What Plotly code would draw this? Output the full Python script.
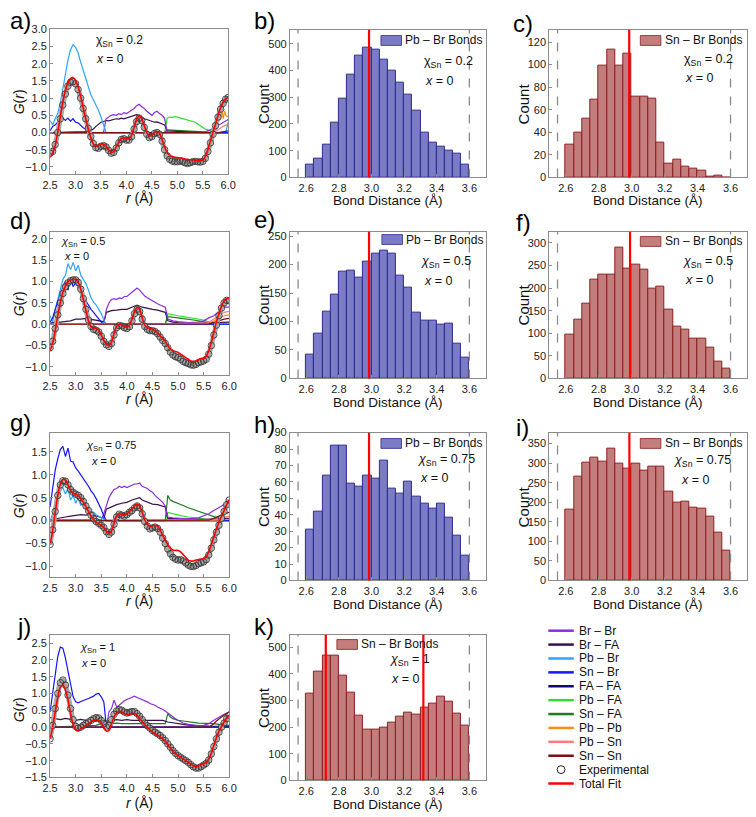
import plotly.graph_objects as go

W, H = 756, 817
FONT = "Liberation Sans, Arial, sans-serif"

# ---------------- G(r) data ----------------
R = [round(2.5 + 0.05 * i, 2) for i in range(71)]

A_EXP = [-0.60, -0.55, -0.35, 0.00, 0.40, 0.80, 1.12, 1.35, 1.46, 1.48,
         1.42, 1.25, 1.00, 0.70, 0.40, 0.12, -0.12, -0.32, -0.44, -0.46,
         -0.40, -0.38, -0.42, -0.52, -0.60, -0.58, -0.45, -0.30, -0.20, -0.18,
         -0.22, -0.22, -0.12, 0.10, 0.32, 0.42, 0.35, 0.15, -0.05, -0.15,
         -0.12, -0.03, 0.00, -0.05, -0.25, -0.50, -0.68, -0.78, -0.83, -0.85,
         -0.85, -0.83, -0.84, -0.88, -0.90, -0.88, -0.85, -0.84, -0.85, -0.86,
         -0.84, -0.75, -0.55, -0.30, -0.05, 0.20, 0.45, 0.68, 0.85, 0.97,
         1.02]
A_FIT = [-0.72, -0.60, -0.38, 0.00, 0.45, 0.88, 1.22, 1.45, 1.57, 1.60,
         1.52, 1.33, 1.05, 0.72, 0.40, 0.10, -0.15, -0.33, -0.40, -0.38,
         -0.34, -0.34, -0.40, -0.50, -0.58, -0.55, -0.42, -0.28, -0.18, -0.15,
         -0.18, -0.18, -0.08, 0.15, 0.38, 0.48, 0.40, 0.20, 0.00, -0.10,
         -0.08, 0.00, 0.03, -0.02, -0.20, -0.42, -0.58, -0.66, -0.70, -0.72,
         -0.73, -0.74, -0.75, -0.77, -0.78, -0.79, -0.80, -0.80, -0.82, -0.82,
         -0.80, -0.70, -0.50, -0.25, 0.00, 0.25, 0.50, 0.72, 0.88, 0.98,
         1.02]
A_PBBR = [(2.50, 0.35), (2.55, 0.22), (2.60, 0.40), (2.65, 0.55), (2.70, 0.85), (2.75, 1.30),
          (2.80, 1.75), (2.85, 2.10), (2.90, 2.40), (2.95, 2.55), (3.00, 2.48), (3.05, 2.32),
          (3.10, 2.05), (3.15, 1.80), (3.20, 1.55), (3.25, 1.32), (3.30, 1.10), (3.35, 0.95),
          (3.40, 0.80), (3.45, 0.65), (3.50, 0.45), (3.55, 0.25), (3.60, 0.00), (5.95, 0.00),
          (6.00, 0.30)]
A_SNBR = [(2.50, 0.05), (2.55, 0.18), (2.60, 0.22), (2.65, 0.30), (2.70, 0.38), (2.75, 0.42),
          (2.80, 0.35), (2.85, 0.42), (2.90, 0.33), (2.95, 0.40), (3.00, 0.30), (3.05, 0.28),
          (3.10, 0.20), (3.15, 0.14), (3.20, 0.10), (3.25, 0.05), (3.30, 0.00), (6.00, 0.00)]
A_BRBR = [(2.50, 0.00), (3.55, 0.00), (3.60, 0.40), (3.65, 0.45), (3.70, 0.50), (3.75, 0.52),
          (3.80, 0.50), (3.85, 0.55), (3.90, 0.52), (3.95, 0.58), (4.00, 0.55), (4.05, 0.60),
          (4.10, 0.65), (4.15, 0.70), (4.20, 0.78), (4.25, 0.82), (4.30, 0.75), (4.35, 0.70),
          (4.40, 0.62), (4.45, 0.55), (4.50, 0.50), (4.55, 0.58), (4.60, 0.62), (4.65, 0.55),
          (4.70, 0.50), (4.75, 0.42), (4.80, 0.00), (5.50, 0.00), (5.55, 0.02), (5.60, 0.05),
          (5.65, 0.08), (5.70, 0.12), (5.75, 0.18), (5.80, 0.22), (5.85, 0.25), (5.90, 0.30),
          (5.95, 0.35), (6.00, 0.38)]
A_BRFA = [(2.50, 0.00), (2.80, 0.01), (2.90, 0.03), (3.00, 0.02), (3.10, 0.02), (3.20, 0.03),
          (3.30, 0.06), (3.35, 0.10), (3.40, 0.18), (3.45, 0.25), (3.50, 0.30), (3.55, 0.32),
          (3.60, 0.35), (3.65, 0.34), (3.70, 0.36), (3.75, 0.38), (3.80, 0.40), (3.85, 0.39),
          (3.90, 0.42), (3.95, 0.40), (4.00, 0.42), (4.05, 0.45), (4.10, 0.48), (4.15, 0.50),
          (4.20, 0.52), (4.25, 0.50), (4.30, 0.45), (4.35, 0.40), (4.40, 0.38), (4.45, 0.35),
          (4.50, 0.33), (4.55, 0.30), (4.60, 0.31), (4.65, 0.28), (4.70, 0.25), (4.75, 0.22),
          (4.80, 0.05), (5.00, 0.03), (5.50, 0.00), (6.00, 0.00)]
A_PBFA = [(2.50, 0.00), (4.75, 0.00), (4.80, 0.42), (4.85, 0.45), (4.90, 0.44), (4.95, 0.46),
          (5.00, 0.45), (5.05, 0.43), (5.10, 0.41), (5.15, 0.40), (5.20, 0.38), (5.25, 0.36),
          (5.30, 0.33), (5.35, 0.30), (5.40, 0.25), (5.45, 0.20), (5.50, 0.15), (5.55, 0.10),
          (5.60, 0.08), (5.65, 0.05), (5.70, 0.03), (5.80, 0.00), (6.00, 0.00)]
A_SNFA = [(2.50, 0.00), (4.75, 0.00), (4.80, 0.08), (5.00, 0.06), (5.20, 0.05), (5.40, 0.03),
          (5.60, 0.01), (5.80, 0.00), (6.00, 0.00)]
A_PBPB = [(2.50, 0.00), (5.65, 0.00), (5.70, 0.08), (5.75, 0.18), (5.80, 0.30), (5.85, 0.45),
          (5.88, 0.60), (5.90, 0.40), (5.93, 0.62), (5.95, 0.50), (6.00, 0.45)]
A_PBSN = [(2.50, 0.00), (5.70, 0.00), (5.80, 0.08), (5.90, 0.18), (6.00, 0.25)]
A_SNSN = [(2.50, 0.00), (5.80, 0.00), (6.00, 0.05)]
A_FAFA = [(2.50, 0.00), (6.00, 0.00)]

D_EXP = [-0.55, -0.40, -0.10, 0.22, 0.50, 0.72, 0.88, 0.97, 1.02, 1.04,
         1.04, 0.98, 0.82, 0.60, 0.35, 0.10, -0.05, -0.12, -0.14, -0.18,
         -0.28, -0.40, -0.48, -0.52, -0.45, -0.25, -0.08, -0.03, -0.04, -0.08,
         -0.10, -0.06, 0.08, 0.25, 0.35, 0.30, 0.12, -0.05, -0.12, -0.15,
         -0.15, -0.17, -0.22, -0.30, -0.38, -0.45, -0.55, -0.65, -0.72, -0.76,
         -0.78, -0.82, -0.87, -0.90, -0.92, -0.95, -0.96, -0.94, -0.90, -0.88,
         -0.86, -0.82, -0.70, -0.50, -0.25, -0.02, 0.20, 0.38, 0.50, 0.56,
         0.55]
D_FIT = [-0.62, -0.45, -0.15, 0.20, 0.50, 0.75, 0.90, 1.00, 1.04, 1.05,
         1.05, 0.98, 0.82, 0.58, 0.32, 0.08, -0.05, -0.10, -0.10, -0.14,
         -0.25, -0.38, -0.46, -0.50, -0.42, -0.22, -0.05, 0.00, -0.02, -0.05,
         -0.07, -0.02, 0.12, 0.30, 0.40, 0.35, 0.15, -0.02, -0.08, -0.10,
         -0.12, -0.15, -0.20, -0.27, -0.33, -0.40, -0.50, -0.58, -0.62, -0.64,
         -0.66, -0.70, -0.74, -0.78, -0.82, -0.86, -0.87, -0.86, -0.83, -0.80,
         -0.80, -0.75, -0.62, -0.42, -0.18, 0.05, 0.25, 0.42, 0.55, 0.60,
         0.60]
D_PBBR = [(2.50, 0.20), (2.55, 0.05), (2.60, 0.35), (2.65, 0.60), (2.70, 0.85), (2.75, 1.05),
          (2.80, 1.15), (2.85, 1.42), (2.90, 1.28), (2.95, 1.45), (3.00, 1.25), (3.05, 1.38),
          (3.10, 1.15), (3.15, 1.05), (3.20, 0.95), (3.25, 0.80), (3.30, 0.62), (3.35, 0.52),
          (3.40, 0.45), (3.45, 0.35), (3.50, 0.25), (3.55, 0.10), (3.60, 0.00), (6.00, 0.00)]
D_SNBR = [(2.50, 0.05), (2.55, 0.15), (2.60, 0.35), (2.65, 0.55), (2.70, 0.70), (2.75, 0.88),
          (2.80, 1.00), (2.85, 0.80), (2.90, 1.10), (2.95, 0.88), (3.00, 0.98), (3.05, 0.85),
          (3.10, 0.75), (3.15, 0.62), (3.20, 0.55), (3.25, 0.45), (3.30, 0.35), (3.35, 0.28),
          (3.40, 0.20), (3.45, 0.12), (3.50, 0.05), (3.55, 0.00), (6.00, 0.00)]
D_BRBR = [(2.50, 0.00), (3.55, 0.00), (3.60, 0.35), (3.65, 0.50), (3.70, 0.58), (3.75, 0.60),
          (3.80, 0.58), (3.85, 0.62), (3.90, 0.60), (3.95, 0.65), (4.00, 0.65), (4.05, 0.70),
          (4.10, 0.75), (4.15, 0.80), (4.20, 0.85), (4.25, 0.80), (4.30, 0.72), (4.35, 0.66),
          (4.40, 0.62), (4.45, 0.58), (4.50, 0.55), (4.55, 0.50), (4.60, 0.48), (4.65, 0.45),
          (4.70, 0.42), (4.75, 0.40), (4.80, 0.12), (4.90, 0.08), (5.00, 0.06), (5.20, 0.04),
          (5.40, 0.05), (5.50, 0.08), (5.60, 0.15), (5.70, 0.20), (5.80, 0.30), (5.90, 0.40),
          (6.00, 0.40)]
D_BRFA = [(2.50, 0.03), (2.60, 0.05), (2.70, 0.05), (2.80, 0.07), (2.90, 0.08), (3.00, 0.12),
          (3.10, 0.12), (3.20, 0.14), (3.30, 0.12), (3.40, 0.10), (3.50, 0.08), (3.55, 0.06),
          (3.60, 0.28), (3.70, 0.32), (3.80, 0.33), (3.90, 0.35), (4.00, 0.35), (4.10, 0.40),
          (4.20, 0.45), (4.30, 0.40), (4.40, 0.37), (4.50, 0.35), (4.60, 0.33), (4.70, 0.30),
          (4.75, 0.28), (4.80, 0.08), (4.90, 0.05), (5.00, 0.04), (5.50, 0.03), (6.00, 0.05)]
D_PBFA = [(2.50, 0.00), (4.75, 0.00), (4.80, 0.25), (4.90, 0.22), (5.00, 0.20), (5.10, 0.18),
          (5.20, 0.16), (5.30, 0.15), (5.40, 0.12), (5.50, 0.10), (5.60, 0.06), (5.70, 0.03),
          (5.80, 0.00), (6.00, 0.00)]
D_SNFA = [(2.50, 0.00), (4.75, 0.00), (4.80, 0.18), (4.90, 0.17), (5.00, 0.15), (5.10, 0.13),
          (5.20, 0.12), (5.30, 0.10), (5.40, 0.08), (5.50, 0.06), (5.60, 0.04), (5.70, 0.02),
          (5.80, 0.00), (6.00, 0.00)]
D_PBPB = [(2.50, 0.00), (5.60, 0.02), (5.70, 0.08), (5.80, 0.15), (5.90, 0.20), (6.00, 0.22)]
D_PBSN = [(2.50, 0.00), (5.55, 0.02), (5.60, 0.05), (5.70, 0.12), (5.80, 0.20), (5.90, 0.28),
          (6.00, 0.30)]
D_SNSN = [(2.50, 0.00), (5.60, 0.01), (5.70, 0.04), (5.80, 0.08), (5.90, 0.12), (6.00, 0.14)]
D_FAFA = [(2.50, 0.00), (6.00, 0.00)]

G_EXP = [-0.52, -0.20, 0.20, 0.55, 0.78, 0.87, 0.86, 0.78, 0.68, 0.62,
         0.58, 0.55, 0.50, 0.42, 0.32, 0.22, 0.12, 0.04, -0.02, -0.06,
         -0.10, -0.15, -0.24, -0.30, -0.25, -0.08, 0.08, 0.14, 0.12, 0.10,
         0.13, 0.18, 0.22, 0.28, 0.32, 0.28, 0.15, -0.02, -0.12, -0.18,
         -0.16, -0.14, -0.17, -0.25, -0.38, -0.50, -0.62, -0.72, -0.80, -0.84,
         -0.86, -0.85, -0.88, -0.92, -0.97, -1.00, -1.00, -0.98, -0.94, -0.92,
         -0.90, -0.85, -0.75, -0.60, -0.42, -0.25, -0.10, 0.05, 0.20, 0.35,
         0.45]
G_FIT = [-0.52, -0.22, 0.18, 0.55, 0.80, 0.90, 0.88, 0.78, 0.66, 0.60,
         0.57, 0.55, 0.48, 0.40, 0.30, 0.20, 0.10, 0.02, -0.03, -0.07,
         -0.10, -0.15, -0.23, -0.28, -0.22, -0.05, 0.10, 0.15, 0.13, 0.12,
         0.15, 0.20, 0.25, 0.32, 0.36, 0.32, 0.18, 0.02, -0.08, -0.12,
         -0.11, -0.10, -0.12, -0.20, -0.32, -0.43, -0.52, -0.60, -0.64, -0.65,
         -0.65, -0.68, -0.74, -0.80, -0.86, -0.88, -0.88, -0.86, -0.85, -0.84,
         -0.83, -0.78, -0.68, -0.52, -0.35, -0.18, -0.03, 0.10, 0.22, 0.35,
         0.45]
G_SNBR = [(2.50, 0.30), (2.55, 0.70), (2.60, 1.10), (2.65, 1.35), (2.70, 1.55), (2.75, 1.62),
          (2.80, 1.40), (2.85, 1.58), (2.90, 1.30), (2.95, 1.28), (3.00, 1.15), (3.05, 1.08),
          (3.10, 1.00), (3.15, 0.92), (3.20, 0.85), (3.25, 0.75), (3.30, 0.65), (3.35, 0.58),
          (3.40, 0.48), (3.45, 0.38), (3.50, 0.25), (3.55, 0.10), (3.60, 0.00), (6.00, 0.00)]
G_PBBR = [(2.50, 0.00), (2.55, 0.15), (2.60, 0.35), (2.65, 0.55), (2.70, 0.65), (2.75, 0.72),
          (2.80, 0.58), (2.85, 0.70), (2.90, 0.45), (2.95, 0.55), (3.00, 0.38), (3.05, 0.50),
          (3.10, 0.33), (3.15, 0.40), (3.20, 0.28), (3.25, 0.28), (3.30, 0.20), (3.35, 0.18),
          (3.40, 0.13), (3.45, 0.10), (3.50, 0.06), (3.55, 0.03), (3.60, 0.00), (6.00, 0.00)]
G_BRBR = [(2.50, 0.02), (3.50, 0.02), (3.55, 0.15), (3.60, 0.35), (3.65, 0.50), (3.70, 0.60),
          (3.75, 0.68), (3.80, 0.70), (3.85, 0.75), (3.90, 0.72), (3.95, 0.75), (4.00, 0.72),
          (4.05, 0.75), (4.10, 0.78), (4.15, 0.80), (4.20, 0.80), (4.25, 0.82), (4.30, 0.75),
          (4.35, 0.72), (4.40, 0.70), (4.45, 0.65), (4.50, 0.62), (4.55, 0.55), (4.60, 0.50),
          (4.65, 0.45), (4.70, 0.40), (4.75, 0.32), (4.80, 0.08), (4.90, 0.06), (5.00, 0.05),
          (5.20, 0.04), (5.40, 0.06), (5.50, 0.10), (5.60, 0.15), (5.70, 0.22), (5.80, 0.28),
          (5.90, 0.35), (6.00, 0.42)]
G_BRFA = [(2.50, 0.02), (2.70, 0.05), (2.80, 0.08), (2.90, 0.10), (3.00, 0.12), (3.10, 0.13),
          (3.20, 0.12), (3.30, 0.15), (3.40, 0.10), (3.50, 0.06), (3.55, 0.05), (3.60, 0.25),
          (3.70, 0.30), (3.80, 0.35), (3.90, 0.38), (4.00, 0.40), (4.10, 0.45), (4.20, 0.48),
          (4.25, 0.50), (4.30, 0.45), (4.40, 0.40), (4.50, 0.36), (4.60, 0.35), (4.70, 0.32),
          (4.75, 0.30), (4.80, 0.05), (5.00, 0.04), (5.50, 0.03), (6.00, 0.05)]
G_SNFA = [(2.50, 0.00), (4.75, 0.00), (4.80, 0.55), (4.85, 0.45), (4.90, 0.42), (4.95, 0.40),
          (5.00, 0.38), (5.10, 0.33), (5.20, 0.28), (5.30, 0.24), (5.40, 0.20), (5.50, 0.16),
          (5.60, 0.12), (5.70, 0.08), (5.80, 0.05), (5.90, 0.03), (6.00, 0.02)]
G_PBFA = [(2.50, 0.00), (4.75, 0.00), (4.80, 0.18), (4.90, 0.15), (5.00, 0.12), (5.10, 0.10),
          (5.20, 0.08), (5.30, 0.07), (5.40, 0.05), (5.50, 0.04), (5.60, 0.02), (5.70, 0.00),
          (6.00, 0.00)]
G_PBPB = [(2.50, 0.00), (5.80, 0.01), (6.00, 0.03)]
G_PBSN = [(2.50, 0.00), (5.70, 0.02), (5.80, 0.05), (5.90, 0.08), (6.00, 0.10)]
G_SNSN = [(2.50, 0.00), (5.60, 0.01), (5.70, 0.05), (5.80, 0.10), (5.90, 0.15), (6.00, 0.18)]
G_FAFA = [(2.50, 0.00), (6.00, 0.00)]

J_EXP = [-0.35, 0.05, 0.55, 1.00, 1.32, 1.40, 1.25, 0.95, 0.55, 0.22,
         0.02, -0.03, 0.00, 0.05, 0.10, 0.15, 0.20, 0.25, 0.28, 0.27,
         0.20, 0.10, 0.00, 0.05, 0.22, 0.38, 0.48, 0.52, 0.50, 0.45,
         0.42, 0.44, 0.46, 0.46, 0.40, 0.32, 0.22, 0.12, 0.04, -0.03,
         -0.10, -0.15, -0.20, -0.25, -0.32, -0.40, -0.50, -0.60, -0.70, -0.78,
         -0.85, -0.90, -0.95, -1.00, -1.05, -1.12, -1.18, -1.22, -1.22, -1.18,
         -1.13, -1.08, -0.98, -0.80, -0.58, -0.35, -0.15, 0.00, 0.12, 0.25,
         0.35]
J_FIT = [-0.35, 0.00, 0.45, 0.88, 1.18, 1.25, 1.10, 0.80, 0.40, 0.08,
         -0.08, -0.10, -0.05, 0.00, 0.05, 0.10, 0.15, 0.20, 0.22, 0.20,
         0.12, 0.00, -0.12, -0.10, 0.10, 0.30, 0.42, 0.47, 0.45, 0.40,
         0.37, 0.38, 0.40, 0.40, 0.34, 0.25, 0.16, 0.07, -0.01, -0.08,
         -0.14, -0.19, -0.24, -0.29, -0.35, -0.42, -0.52, -0.62, -0.72, -0.78,
         -0.85, -0.90, -0.95, -1.00, -1.05, -1.10, -1.15, -1.18, -1.15, -1.12,
         -1.10, -1.05, -0.95, -0.78, -0.55, -0.32, -0.12, 0.02, 0.15, 0.27,
         0.35]
J_SNBR = [(2.50, 0.45), (2.55, 1.00), (2.60, 1.60), (2.65, 2.10), (2.70, 2.38), (2.75, 2.35),
          (2.80, 2.05), (2.85, 1.65), (2.90, 1.20), (2.95, 0.90), (3.00, 0.75), (3.05, 0.72),
          (3.10, 0.76), (3.15, 0.78), (3.20, 0.82), (3.25, 0.85), (3.30, 0.88), (3.35, 0.92),
          (3.40, 0.98), (3.45, 1.00), (3.50, 0.90), (3.55, 0.75), (3.60, 0.00), (6.00, 0.00)]
J_BRBR = [(2.50, 0.00), (3.60, 0.00), (3.65, 0.45), (3.70, 0.55), (3.75, 0.80), (3.80, 0.60),
          (3.85, 0.65), (3.90, 0.72), (3.95, 0.78), (4.00, 0.82), (4.05, 0.85), (4.10, 0.88),
          (4.15, 0.92), (4.20, 0.88), (4.25, 0.85), (4.30, 0.80), (4.35, 0.78), (4.40, 0.75),
          (4.45, 0.70), (4.50, 0.68), (4.55, 0.65), (4.60, 0.60), (4.65, 0.55), (4.70, 0.52),
          (4.75, 0.48), (4.80, 0.42), (4.85, 0.35), (4.90, 0.30), (4.95, 0.25), (5.00, 0.20),
          (5.10, 0.12), (5.20, 0.08), (5.30, 0.05), (5.40, 0.04), (5.50, 0.05), (5.60, 0.10),
          (5.70, 0.20), (5.80, 0.30), (5.90, 0.38), (6.00, 0.45)]
J_BRFA = [(2.50, 0.28), (2.60, 0.25), (2.70, 0.22), (2.80, 0.26), (2.90, 0.22), (3.00, 0.20),
          (3.10, 0.23), (3.20, 0.20), (3.30, 0.21), (3.40, 0.18), (3.50, 0.20), (3.60, 0.18),
          (3.70, 0.20), (3.80, 0.22), (3.90, 0.20), (4.00, 0.22), (4.10, 0.20), (4.20, 0.20),
          (4.30, 0.22), (4.40, 0.20), (4.50, 0.22), (4.60, 0.20), (4.70, 0.20), (4.80, 0.15),
          (4.90, 0.12), (5.00, 0.10), (5.10, 0.08), (5.20, 0.06), (5.30, 0.05), (5.40, 0.04),
          (5.60, 0.03), (6.00, 0.02)]
J_SNFA = [(2.50, 0.00), (3.00, 0.02), (3.40, 0.05), (3.50, 0.10), (3.60, 0.12), (3.70, 0.10),
          (3.80, 0.12), (3.90, 0.10), (4.00, 0.10), (4.10, 0.12), (4.20, 0.10), (4.40, 0.10),
          (4.60, 0.10), (4.75, 0.10), (4.80, 0.40), (4.85, 0.30), (4.90, 0.25), (5.00, 0.20),
          (5.10, 0.18), (5.20, 0.15), (5.30, 0.14), (5.40, 0.12), (5.50, 0.12), (5.60, 0.10),
          (5.70, 0.10), (5.80, 0.08), (5.90, 0.06), (6.00, 0.05)]
J_SNSN = [(2.50, 0.00), (5.60, 0.00), (5.65, 0.05), (5.70, 0.10), (5.75, 0.18), (5.80, 0.25),
          (5.85, 0.30), (5.90, 0.35), (5.95, 0.40), (6.00, 0.45)]
J_FAFA = [(2.50, 0.00), (6.00, 0.00)]

# ---------------- histogram data ----------------
BIN_LEFT = [round(2.60 + 0.05 * i, 2) for i in range(20)]
BIN_W = 0.05
B_PBBR = [47, 70, 123, 204, 296, 385, 456, 484, 478, 442, 400, 356, 309, 249, 168, 130, 114, 101, 89, 49]
C_SNBR = [29, 40, 52, 69, 99, 113, 99, 110, 72, 72, 70, 31, 12, 16, 10, 8, 6, 1, 2, 0]
E_PBBR = [41, 78, 118, 148, 187, 189, 177, 206, 219, 225, 219, 180, 160, 116, 102, 102, 95, 96, 62, 37]
F_SNBR = [98, 130, 165, 218, 229, 229, 290, 242, 251, 240, 198, 203, 153, 115, 108, 88, 88, 68, 38, 21]
H_PBBR = [31, 42, 64, 82, 82, 59, 57, 64, 62, 73, 56, 53, 60, 51, 47, 44, 47, 38, 27, 15]
I_SNBR = [181, 266, 302, 314, 303, 336, 300, 286, 300, 281, 291, 291, 227, 200, 201, 187, 184, 164, 122, 77]
K_SNBR = [327, 408, 470, 470, 393, 329, 244, 192, 189, 197, 217, 240, 254, 248, 275, 290, 314, 296, 249, 204]
CUTOFFS = [2.55, 3.60]
MEANS = {'b': [2.985], 'c': [2.985], 'e': [2.985], 'f': [2.99], 'h': [2.985], 'i': [2.986], 'k': [2.72, 3.318]}

COL = {'Br – Br': '#8a2be2', 'Br – FA': '#3b0f4f', 'Pb – Br': '#2fa4ff', 'Sn – Br': '#1414ff',
       'FA – FA': '#0c0c70', 'Pb – FA': '#2ee02e', 'Sn – FA': '#1e7b1e', 'Pb – Pb': '#ff8c1a',
       'Pb – Sn': '#ff7b7b', 'Sn – Sn': '#7a1414'}
FIT_COL = '#ff0000'
PB_FILL, PB_EDGE = '#7b7bc6', '#2b2b8c'
SN_FILL, SN_EDGE = '#c47d7d', '#8c1e1e'

# panel frames in pixels: x0, x1, y0(top), y1(bottom)
FR = {'a': (43, 225, 23, 171), 'b': (288, 488, 24, 174), 'c': (553, 755, 24, 174),
      'd': (43, 226, 229, 375), 'e': (288, 488, 229, 378), 'f': (553, 755, 229, 378),
      'g': (43, 226, 433, 580), 'h': (288, 488, 433, 583), 'i': (553, 755, 433, 583),
      'j': (43, 226, 638, 783), 'k': (288, 488, 638, 786)}
IDX = {p: n + 1 for n, p in enumerate('abcdefghijk')}

fig = go.Figure()
layout = {}
annotations = []
shapes = []


def refs(p):
    n = IDX[p]
    return ('x' if n == 1 else f'x{n}'), ('y' if n == 1 else f'y{n}')


AXC = dict(showline=True, linecolor='#8c8c8c', linewidth=1, mirror=True, ticks='inside',
           ticklen=3, tickwidth=1, tickcolor='#8c8c8c', showgrid=False, zeroline=False,
           tickfont=dict(size=11, color='#222', family=FONT))


def set_axes(p, xrange, xtick0, xdtick, yrange, ytick0, ydtick, yfmt):
    n = IDX[p]
    x0, x1, y0, y1 = FR[p]
    xn = 'xaxis' if n == 1 else f'xaxis{n}'
    yn = 'yaxis' if n == 1 else f'yaxis{n}'
    xr, yr = refs(p)
    layout[xn] = dict(domain=[x0 / W, x1 / W], anchor=yr, range=xrange, tick0=xtick0,
                      dtick=xdtick, tickformat='.1f', **AXC)
    layout[yn] = dict(domain=[1 - y1 / H, 1 - y0 / H], anchor=xr, range=yrange, tick0=ytick0,
                      dtick=ydtick, tickformat=yfmt, **AXC)


def ann(text, x, y, size, xanchor='left', yanchor='middle', angle=0, color='#111'):
    annotations.append(dict(text=text, x=x / W, y=1 - y / H, xref='paper', yref='paper',
                            xanchor=xanchor, yanchor=yanchor, showarrow=False, textangle=angle,
                            font=dict(size=size, color=color, family=FONT)))


def gr_panel(p, partials, exp, fit, yrange):
    assert len(exp) == len(R) and len(fit) == len(R)
    xr, yr = refs(p)
    for name, pairs in partials:
        fig.add_trace(go.Scatter(x=[q[0] for q in pairs], y=[q[1] for q in pairs], mode='lines',
                                 line=dict(color=COL[name], width=1.2), name=name,
                                 xaxis=xr, yaxis=yr, showlegend=False))
    # experimental: dense open circles forming a grey band
    fig.add_trace(go.Scatter(x=R, y=exp, mode='lines', name='Experimental band',
                             line=dict(color='#a8a8a8', width=5, shape='spline'),
                             xaxis=xr, yaxis=yr, showlegend=False, hoverinfo='skip'))
    fig.add_trace(go.Scatter(x=R, y=exp, mode='markers', name='Experimental',
                             marker=dict(symbol='circle-open', size=6.5, color='#3a3a3a',
                                         line=dict(width=0.9, color='#3a3a3a')),
                             xaxis=xr, yaxis=yr, showlegend=False))
    fig.add_trace(go.Scatter(x=R, y=fit, mode='lines', name='Total Fit',
                             line=dict(color=FIT_COL, width=1.6, shape='spline'),
                             xaxis=xr, yaxis=yr, showlegend=False))
    set_axes(p, [2.5, 6.0], 2.5, 0.5, yrange, -1.5, 0.5, '.1f')


def hist_panel(p, counts, fill, edge, yrange, ydtick, label):
    xr, yr = refs(p)
    fig.add_trace(go.Bar(x=[b + BIN_W / 2 for b in BIN_LEFT], y=counts, width=BIN_W, name=label,
                         marker=dict(color=fill, line=dict(color=edge, width=1)),
                         xaxis=xr, yaxis=yr, showlegend=False))
    for c in CUTOFFS:
        shapes.append(dict(type='line', xref=xr, yref=yr + ' domain', x0=c, x1=c, y0=0, y1=1,
                           line=dict(color='#8a8a8a', width=1.3, dash='dash')))
    for m in MEANS[p]:
        shapes.append(dict(type='line', xref=xr, yref=yr + ' domain', x0=m, x1=m, y0=0, y1=1,
                           line=dict(color='#ff0000', width=2.2)))
    set_axes(p, [2.5, 3.7], 2.6, 0.2, yrange, 0, ydtick, 'd')


ORDER = ['FA – FA', 'Pb – FA', 'Sn – FA', 'Br – FA', 'Br – Br', 'Pb – Br', 'Sn – Br',
         'Pb – Pb', 'Pb – Sn', 'Sn – Sn']
gr_panel('a', list(zip(ORDER, [A_FAFA, A_PBFA, A_SNFA, A_BRFA, A_BRBR, A_PBBR, A_SNBR, A_PBPB, A_PBSN, A_SNSN])),
         A_EXP, A_FIT, [-1.22, 3.02])
gr_panel('d', list(zip(ORDER, [D_FAFA, D_PBFA, D_SNFA, D_BRFA, D_BRBR, D_PBBR, D_SNBR, D_PBPB, D_PBSN, D_SNSN])),
         D_EXP, D_FIT, [-1.2, 2.17])
gr_panel('g', list(zip(ORDER, [G_FAFA, G_PBFA, G_SNFA, G_BRFA, G_BRBR, G_PBBR, G_SNBR, G_PBPB, G_PBSN, G_SNSN])),
         G_EXP, G_FIT, [-1.24, 1.92])
gr_panel('j', [('FA – FA', J_FAFA), ('Sn – FA', J_SNFA), ('Br – FA', J_BRFA), ('Br – Br', J_BRBR),
               ('Sn – Br', J_SNBR), ('Sn – Sn', J_SNSN)], J_EXP, J_FIT, [-1.5, 2.75])

hist_panel('b', B_PBBR, PB_FILL, PB_EDGE, [0, 553], 100, 'Pb – Br Bonds')
hist_panel('c', C_SNBR, SN_FILL, SN_EDGE, [0, 131], 20, 'Sn – Br Bonds')
hist_panel('e', E_PBBR, PB_FILL, PB_EDGE, [0, 258], 50, 'Pb – Br Bonds')
hist_panel('f', F_SNBR, SN_FILL, SN_EDGE, [0, 325], 50, 'Sn – Br Bonds')
hist_panel('h', H_PBBR, PB_FILL, PB_EDGE, [0, 90], 10, 'Pb – Br Bonds')
hist_panel('i', I_SNBR, SN_FILL, SN_EDGE, [0, 378], 50, 'Sn – Br Bonds')
hist_panel('k', K_SNBR, SN_FILL, SN_EDGE, [0, 547], 100, 'Sn – Br Bonds')

# ---------------- text ----------------
for p, x, y in [('a', 0, -1), ('b', 249, -1), ('c', 514, 2), ('d', 0, 202), ('e', 249, 201),
                ('f', 517, 204), ('g', 0, 407), ('h', 249, 409), ('i', 517, 412), ('j', 7, 614),
                ('k', 249, 614)]:
    ann(p + ')', x, y, 24, yanchor='top', color='#000')

for y in [195, 399, 604, 809]:
    ann('<i>r</i> (Å)', 134, y, 14, xanchor='center')
for yc in [97, 302, 507, 714]:
    ann('<i>G</i>(<i>r</i>)', 11, yc, 14, xanchor='center', angle=-90)
for y in [197, 402, 607, 810]:
    ann('Bond Distance (Å)', 388, y, 13.5, xanchor='center')
for y in [197, 402, 607]:
    ann('Bond Distance (Å)', 654, y, 13.5, xanchor='center')
for x, y in [(261, 99), (527, 99), (261, 303), (527, 303), (261, 508), (527, 508), (261, 712)]:
    ann('Count', x, y, 15, xanchor='center', angle=-90)

# composition labels in G(r) panels
ann('χ<sub>Sn</sub> = 0.2', 88, 36, 12)
ann('<i>x</i> = 0', 88, 54, 12)
ann('<i>χ</i><sub>Sn</sub> = 0.5', 52, 240, 11)
ann('<i>x</i> = 0', 55, 254, 11)
ann('<i>χ</i><sub>Sn</sub> = 0.75', 78, 447, 11)
ann('<i>x</i> = 0', 83, 462, 11)
ann('<i>χ</i><sub>Sn</sub> = 1', 72, 652, 11)
ann('<i>x</i> = 0', 73, 667, 11)

# histogram legends and labels
HLEG = [('b', 381, 35, 'Pb – Br Bonds', PB_FILL, PB_EDGE, 'χ<sub>Sn</sub> = 0.2', 423, 57, 424, 76),
        ('c', 646, 35, 'Sn – Br Bonds', SN_FILL, SN_EDGE, 'χ<sub>Sn</sub> = 0.2', 689, 55, 690, 73),
        ('e', 382, 237, 'Pb – Br Bonds', PB_FILL, PB_EDGE, '<i>χ</i><sub>Sn</sub> = 0.5', 420, 260, 423, 279),
        ('f', 646, 239, 'Sn – Br Bonds', SN_FILL, SN_EDGE, '<i>χ</i><sub>Sn</sub> = 0.5', 688, 260, 690, 278),
        ('h', 381, 444, 'Pb – Br Bonds', PB_FILL, PB_EDGE, '<i>χ</i><sub>Sn</sub> = 0.75', 417, 461, 419, 479),
        ('i', 646, 444, 'Sn – Br Bonds', SN_FILL, SN_EDGE, '<i>χ</i><sub>Sn</sub> = 0.75', 678, 462, 685, 481),
        ('k', 336, 648, 'Sn – Br Bonds', SN_FILL, SN_EDGE, '<i>χ</i><sub>Sn</sub> = 1', 388, 664, 389, 683)]
for p, sx, sy, lab, fill, edge, chi, cx, cy, xx, xy in HLEG:
    shapes.append(dict(type='rect', xref='paper', yref='paper', x0=sx / W, x1=(sx + 21) / W,
                       y0=1 - (sy + 5) / H, y1=1 - (sy - 5) / H, fillcolor=fill,
                       line=dict(color=edge, width=0.8)))
    ann(lab, sx + 23, sy, 12)
    ann(chi, cx, cy, 12.5)
    ann('<i>x</i> = 0', xx, xy, 12.5)

# G(r) legend
LEG_ORDER = ['Br – Br', 'Br – FA', 'Pb – Br', 'Sn – Br', 'FA – FA', 'Pb – FA', 'Sn – FA',
             'Pb – Pb', 'Pb – Sn', 'Sn – Sn']
for i, name in enumerate(LEG_ORDER + ['Experimental', 'Total Fit']):
    yc = 634 + 14.1 * i
    if name == 'Experimental':
        shapes.append(dict(type='circle', xref='paper', yref='paper', x0=561 / W, x1=569 / W,
                           y0=1 - (yc + 4) / H, y1=1 - (yc - 4) / H, line=dict(color='#222', width=1)))
    else:
        c = FIT_COL if name == 'Total Fit' else COL[name]
        shapes.append(dict(type='line', xref='paper', yref='paper', x0=552 / W, x1=578 / W,
                           y0=1 - yc / H, y1=1 - yc / H, line=dict(color=c, width=2.5)))
    ann(name, 581, yc, 12)

layout.update(dict(width=W, height=H, margin=dict(l=0, r=0, t=0, b=0), paper_bgcolor='white',
                   plot_bgcolor='white', showlegend=False, bargap=0, annotations=annotations,
                   shapes=shapes, font=dict(family=FONT)))
fig.update_layout(**layout)
fig.write_html('out.html')
